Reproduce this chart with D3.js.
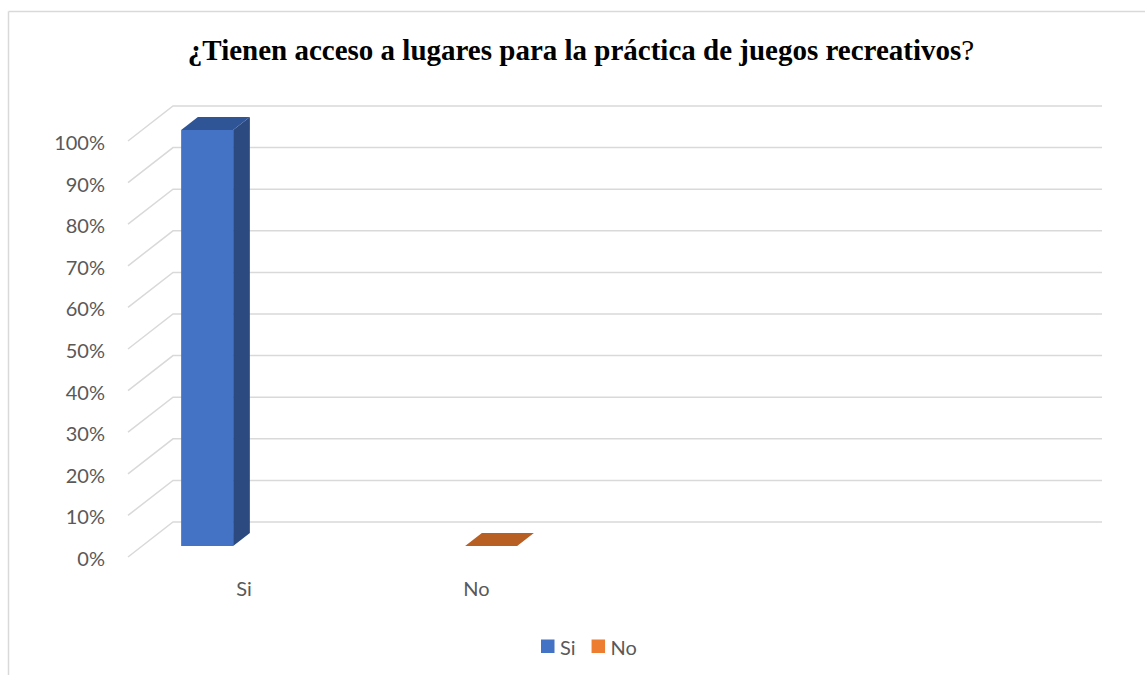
<!DOCTYPE html>
<html>
<head>
<meta charset="utf-8">
<script src="https://cdn.jsdelivr.net/npm/d3@7/dist/d3.min.js"></script>
<style>
  html, body { margin: 0; padding: 0; background: #fff; }
  svg { display: block; }
</style>
</head>
<body>
<svg id="chart" width="1145" height="675"></svg>
<script>
// Survey answers (share of respondents)
const categories = ["Si", "No"];
const values = [1.0, 0.0];
const axisLabels = ["Si", "No", "", ""];
const yTicks = [0, 0.1, 0.2, 0.3, 0.4, 0.5, 0.6, 0.7, 0.8, 0.9, 1.0];
const titleMain = "¿Tienen acceso a lugares para la práctica de juegos recreativos";
const titleEnd = "?";

const W = 1145, H = 675;
const svg = d3.select("#chart");

// Oblique 3D projection: depth 0 = back wall, depth 1 = front edge of floor
const depthDX = -45, depthDY = 35;
const wallLeft = 173, wallRight = 1102;
const y = d3.scaleLinear().domain([0, 1]).range([522, 106]);
const proj = (bx, v, d) => [bx + depthDX * d, y(v) + depthDY * d];

// Category slots along the floor used for the axis labels
const xLabel = d3.scaleBand().domain(axisLabels.map((d, i) => i)).range([wallLeft, wallRight]);
// Column centres on the back plane
const xBar = d3.scalePoint().domain(categories).range([238, 522]);
const barW = 52, dFront = 24 / 35, dBack = 11 / 35;

const colors = {
  Si: { front: "#4472c4", top: "#2f5597", side: "#2c4a80" },
  No: { front: "#ed7d31", top: "#b85f24", side: "#a35420" }
};

// Chart frame
svg.append("line").attr("x1", 8.5).attr("x2", W).attr("y1", 11.5).attr("y2", 11.5)
  .attr("stroke", "#d9d9d9").attr("stroke-width", 1.5);
svg.append("line").attr("x1", 8.5).attr("x2", 8.5).attr("y1", 11.5).attr("y2", H)
  .attr("stroke", "#d9d9d9").attr("stroke-width", 1.5);

// Title
const title = svg.append("text").attr("x", 581).attr("y", 60).attr("text-anchor", "middle")
  .attr("font-family", "'Liberation Serif', 'Times New Roman', serif").attr("font-size", 29)
  .attr("fill", "#000");
title.append("tspan").attr("font-weight", "bold").text(titleMain);
title.append("tspan").text(titleEnd);

// Gridlines: back wall + side wall
const grid = svg.append("g").attr("stroke", "#d9d9d9").attr("stroke-width", 1.5).attr("fill", "none");
yTicks.forEach(t => {
  const [fx, fy] = proj(wallLeft, t, 1);
  grid.append("path").attr("d", `M${fx},${fy}L${wallLeft},${y(t)}L${wallRight},${y(t)}`);
});

// Y tick labels
const fmt = d3.format(".0%");
svg.append("g").selectAll("text").data(yTicks).join("text")
  .attr("x", 105).attr("y", t => proj(wallLeft, t, 1)[1] + 1)
  .attr("text-anchor", "end").attr("dominant-baseline", "central")
  .attr("font-family", "Lato, 'Open Sans', sans-serif").attr("font-size", 20)
  .attr("fill", "#595959").text(fmt);

// Columns
const bars = svg.append("g");
categories.forEach((c, i) => {
  const v = values[i];
  const cx = xBar(c);
  const l = cx - barW / 2, r = cx + barW / 2;
  const pts = (arr) => arr.map(p => p.join(",")).join(" ");
  const fTL = proj(l, v, dFront), fTR = proj(r, v, dFront);
  const fBL = proj(l, 0, dFront), fBR = proj(r, 0, dFront);
  const bTL = proj(l, v, dBack), bTR = proj(r, v, dBack), bBR = proj(r, 0, dBack);
  const col = colors[c];
  if (v > 0) {
    bars.append("polygon").attr("points", pts([fTR, bTR, bBR, fBR])).attr("fill", col.side);
    bars.append("polygon").attr("points", pts([fTL, fTR, fBR, fBL])).attr("fill", col.front);
  }
  bars.append("polygon").attr("points", pts([fTL, fTR, bTR, bTL])).attr("fill", col.top);
});

// Category labels along the front edge
svg.append("g").selectAll("text").data(axisLabels.map((d, i) => ({ d, i })).filter(o => o.d))
  .join("text")
  .attr("x", o => proj(xLabel(o.i) + xLabel.bandwidth() / 2, 0, 1)[0])
  .attr("y", 588).attr("text-anchor", "middle").attr("dominant-baseline", "central")
  .attr("font-family", "Lato, 'Open Sans', sans-serif").attr("font-size", 20)
  .attr("fill", "#595959").text(o => o.d);

// Legend
const legend = svg.append("g").attr("transform", "translate(541,646)");
let lx = 0;
categories.forEach(c => {
  const g = legend.append("g").attr("transform", `translate(${lx},0)`);
  g.append("rect").attr("x", 0).attr("y", -6.5).attr("width", 13.5).attr("height", 13.5)
    .attr("fill", colors[c].front);
  const t = g.append("text").attr("x", 19).attr("y", 0.5).attr("dominant-baseline", "central")
    .attr("font-family", "Lato, 'Open Sans', sans-serif").attr("font-size", 20)
    .attr("fill", "#595959").text(c);
  lx += 19 + t.node().getComputedTextLength() + 16;
});
</script>
</body>
</html>
